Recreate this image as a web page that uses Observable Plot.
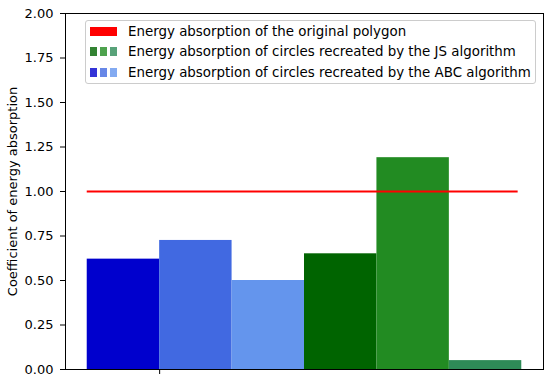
<!DOCTYPE html>
<html>
<head>
<meta charset="utf-8">
<script src="https://cdn.jsdelivr.net/npm/d3@7"></script>
<script src="https://cdn.jsdelivr.net/npm/@observablehq/plot@0.6"></script>
<style>
  body { margin: 0; background: white; }
  #wrap { position: relative; width: 550px; height: 383px; font-family: "DejaVu Sans", sans-serif; }
  .legend { position: absolute; left: 85px; top: 20px; width: 449px; height: 62px;
    border: 1px solid #cccccc; border-radius: 3px; background: rgba(255,255,255,0.8); }
  .row { position: absolute; left: 4px; height: 20px; display: flex; align-items: center; font-size: 13.4px; color: black; white-space: nowrap; }
  .handle { width: 27px; height: 9px; margin-right: 11px; display: flex; justify-content: space-between; }
  .handle span { display: block; height: 9px; }
</style>
</head>
<body>
<div id="wrap"></div>
<script>
// Data
const abcLabels = ["ABC 1", "ABC 2", "ABC 3"];
const abcValues = [0.62, 0.725, 0.50];
const abcColors = ["#0000CD", "#4169E1", "#6495ED"];
const jsLabels = ["JS 1", "JS 2", "JS 3"];
const jsValues = [0.65, 1.19, 0.05];
const jsColors = ["#006400", "#228B22", "#2E8B57"];
const barLeft = [-0.1, 0, 0.1, 0.2, 0.3, 0.4];
const barWidth = 0.1;
const originalValue = 1.0;
const lineStart = -0.1;
const lineEnd = 0.495;
const yTicks = [0, 0.25, 0.5, 0.75, 1.0, 1.25, 1.5, 1.75, 2.0];
const legendLabels = [
  "Energy absorption of the original polygon",
  "Energy absorption of circles recreated by the JS algorithm",
  "Energy absorption of circles recreated by the ABC algorithm"
];

const bars = [...abcLabels.map((l, i) => ({label: l, value: abcValues[i], color: abcColors[i]})),
              ...jsLabels.map((l, i) => ({label: l, value: jsValues[i], color: jsColors[i]}))]
  .map((d, i) => ({...d, x1: barLeft[i], x2: barLeft[i] + barWidth}));

const chart = Plot.plot({
  width: 550, height: 383,
  marginLeft: 65, marginRight: 7, marginTop: 13, marginBottom: 14,
  style: {fontFamily: "DejaVu Sans", fontSize: "13px", color: "black", background: "white"},
  x: {domain: [-0.13, 0.53], axis: null},
  y: {domain: [0, 2], axis: null},
  color: {type: "identity"},
  marks: [
    Plot.rectY(bars, {x1: "x1", x2: "x2", y: "value", fill: "color"}),
    Plot.ruleY([originalValue], {x1: lineStart, x2: lineEnd, stroke: "red", strokeWidth: 2}),
    Plot.axisY({ticks: yTicks, tickFormat: d3.format(".2f"), tickSize: 5, tickPadding: 7, fontSize: 13,
      label: "Coefficient of energy absorption", labelAnchor: "center", labelArrow: "none", labelOffset: 58}),
    Plot.axisX({ticks: [0], tickFormat: () => "", tickSize: 5, label: null}),
    Plot.frame({stroke: "black", strokeWidth: 1})
  ]
});
const wrap = document.getElementById("wrap");
wrap.appendChild(chart);

// Legend
const legend = document.createElement("div");
legend.className = "legend";
const alpha = c => { const k = d3.rgb(c); k.opacity = 0.8; return k.formatRgb(); };
const handles = [["red"], jsColors.map(alpha), abcColors.map(alpha)];
legendLabels.forEach((t, i) => {
  const row = document.createElement("div");
  row.className = "row";
  row.style.top = (0 + i * 20.5) + "px";
  const h = document.createElement("div");
  h.className = "handle";
  handles[i].forEach(c => {
    const s = document.createElement("span");
    s.style.background = c;
    s.style.width = handles[i].length === 1 ? "27px" : "7px";
    h.appendChild(s);
  });
  row.appendChild(h);
  const tx = document.createElement("span");
  tx.textContent = t;
  row.appendChild(tx);
  legend.appendChild(row);
});
wrap.appendChild(legend);
</script>
</body>
</html>
